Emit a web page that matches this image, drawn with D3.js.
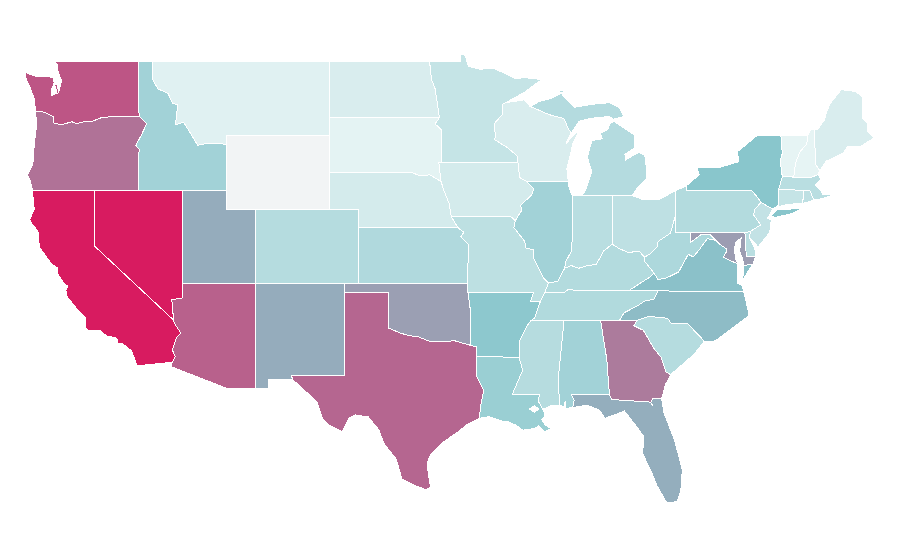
<!DOCTYPE html>
<html>
<head>
<meta charset="utf-8">
<title>US states</title>
<script src="https://cdnjs.cloudflare.com/ajax/libs/d3/7.8.5/d3.min.js"></script>
<style>
  html, body { margin: 0; padding: 0; background: #fff; }
  .state { stroke: #fff; stroke-width: 1px; shape-rendering: crispEdges; fill-rule: evenodd; }
</style>
</head>
<body>
<div id="map"></div>
<script>
var stateNames = ["WA","OR","CA","NV","ID","MT","WY","UT","AZ","NM","CO","ND","SD","NE","KS","OK","TX",
  "MN","IA","MO","AR","LA","WI","IL","MI","IN","OH","KY","TN","MS","AL","GA","FL","SC","NC","VA","WV",
  "PA","NY","VT","NH","ME","MA","CT","RI","NJ","DE","MD"];
var stateValues = [166,149,200,200,74,9,0,115,159,115,54,17,5,22,59,123,156,
  37,22,46,96,82,17,74,55,50,45,56,58,53,74,144,114,54,106,103,62,
  56,100,3,3,17,50,37,45,40,50,124];

// outlines, lon/lat
var WA = [[[-122.76,49],[-117.03,49],[-117.04,46.42],[-116.92,45.99],[-118.98,46],[-119.3,45.93],[-119.6,45.92],[-120.2,45.73],[-120.65,45.74],[-121.2,45.61],[-121.55,45.72],[-122.25,45.55],[-122.77,45.65],[-122.8,46],[-123.2,46.15],[-123.55,46.26],[-124,46.27],[-124.07,46.7],[-124.1,46.95],[-124.4,47.6],[-124.73,48.17],[-124.7,48.38],[-124,48.17],[-123.1,48.15],[-122.8,48.1],[-122.75,47.8],[-122.95,47.45],[-122.9,47.15],[-122.55,47.25],[-122.7,47.7],[-122.55,47.75],[-122.45,47.3],[-122.35,47.6],[-122.25,47.95],[-122.4,48.25],[-122.5,48.5],[-122.5,48.75]]];
var OR = [[[-124,46.27],[-123.55,46.26],[-123.2,46.15],[-122.8,46],[-122.77,45.65],[-122.25,45.55],[-121.55,45.72],[-121.2,45.61],[-120.65,45.74],[-120.2,45.73],[-119.6,45.92],[-119.3,45.93],[-118.98,46],[-116.92,45.99],[-116.46,45.6],[-116.85,44.95],[-117.2,44.45],[-116.95,44.2],[-117.03,43.83],[-117.03,42],[-124.21,42],[-124.36,42.5],[-124.55,42.84],[-124.2,43.4],[-124.1,44.5],[-123.95,45.5]]];
var CA = [[[-124.21,42],[-120,42],[-120,39],[-114.63,35],[-114.57,34.83],[-114.14,34.3],[-114.43,34.05],[-114.72,33.4],[-114.52,33.03],[-114.72,32.72],[-117.12,32.53],[-117.25,32.85],[-117.5,33.35],[-118.1,33.72],[-118.4,33.75],[-118.5,34.03],[-119.2,34.15],[-119.6,34.42],[-120.47,34.45],[-120.65,34.6],[-120.65,35.15],[-121.3,35.7],[-121.9,36.3],[-121.95,36.6],[-121.8,36.85],[-122.05,36.95],[-122.5,37.5],[-122.5,37.8],[-122.95,38.05],[-123.75,38.95],[-123.85,39.8],[-124.35,40.3],[-124.4,40.45],[-124.1,41],[-124.2,41.75]]];
var NV = [[[-120,42],[-114.04,42],[-114.04,36.2],[-114.75,36.1],[-114.63,35],[-120,39]]];
var ID = [[[-117.03,49],[-116.05,49],[-116.05,48],[-115.7,47.5],[-115,47.25],[-114.7,46.7],[-114.35,46.65],[-114.5,45.55],[-113.95,45.7],[-113.45,45.05],[-113,44.45],[-112.3,44.55],[-111.5,44.55],[-111.05,44.48],[-111.05,42],[-117.03,42],[-117.03,43.83],[-116.95,44.2],[-117.2,44.45],[-116.85,44.95],[-116.46,45.6],[-116.92,45.99],[-117.04,46.42]]];
var MT = [[[-116.05,49],[-104.05,49],[-104.05,45],[-111.05,45],[-111.05,44.48],[-111.5,44.55],[-112.3,44.55],[-113,44.45],[-113.45,45.05],[-113.95,45.7],[-114.5,45.55],[-114.35,46.65],[-114.7,46.7],[-115,47.25],[-115.7,47.5],[-116.05,48]]];
var WY = [[[-111.05,45],[-104.05,45],[-104.05,41],[-111.05,41]]];
var UT = [[[-114.04,42],[-111.05,42],[-111.05,41],[-109.05,41],[-109.05,37],[-114.04,37]]];
var AZ = [[[-114.04,37],[-109.05,37],[-109.05,31.33],[-111.07,31.33],[-114.81,32.49],[-114.72,32.72],[-114.52,33.03],[-114.72,33.4],[-114.43,34.05],[-114.14,34.3],[-114.57,34.83],[-114.63,35],[-114.75,36.1],[-114.04,36.2]]];
var NM = [[[-109.05,37],[-103,37],[-103.04,32],[-106.62,32],[-106.53,31.78],[-108.21,31.78],[-108.21,31.33],[-109.05,31.33]]];
var CO = [[[-109.05,41],[-102.05,41],[-102.05,37],[-109.05,37]]];
var ND = [[[-104.05,49],[-97.23,49],[-97.1,48],[-96.85,47.5],[-96.56,45.94],[-104.05,45.94]]];
var SD = [[[-104.05,45.94],[-96.56,45.94],[-96.85,45.6],[-96.45,45.3],[-96.45,43.5],[-96.6,43.5],[-96.45,42.49],[-97.2,42.85],[-97.9,42.8],[-98.5,43],[-104.05,43]]];
var NE = [[[-104.05,43],[-98.5,43],[-97.9,42.8],[-97.2,42.85],[-96.45,42.49],[-96.25,42],[-95.9,41.3],[-95.75,40.58],[-95.31,40],[-102.05,40],[-102.05,41],[-104.05,41]]];
var KS = [[[-102.05,40],[-95.31,40],[-94.9,39.75],[-95.1,39.5],[-94.61,39.11],[-94.62,37],[-102.05,37]]];
var OK = [[[-103,37],[-94.62,37],[-94.62,36.5],[-94.43,35.4],[-94.48,33.64],[-95.5,33.88],[-96.6,33.85],[-97.2,33.85],[-98.1,34.13],[-98.6,34.15],[-99.2,34.3],[-100,34.56],[-100,36.5],[-103.04,36.5]]];
var TX = [[[-103.04,36.5],[-100,36.5],[-100,34.56],[-99.2,34.3],[-98.6,34.15],[-98.1,34.13],[-97.2,33.85],[-96.6,33.85],[-95.5,33.88],[-94.48,33.64],[-94.04,33.55],[-94.04,33.02],[-94.04,32],[-93.55,31.2],[-93.75,30.4],[-93.84,29.7],[-94.7,29.35],[-95.15,29.05],[-96.3,28.4],[-97.1,27.8],[-97.4,27.3],[-97.3,26.6],[-97.15,25.96],[-97.5,25.85],[-98.2,26.05],[-99.1,26.4],[-99.5,27.5],[-100.3,28.3],[-100.7,29.1],[-101.4,29.77],[-102.3,29.88],[-102.7,29.7],[-103.15,28.98],[-104,29.3],[-104.5,29.65],[-104.9,30.6],[-106,31.4],[-106.53,31.78],[-106.62,32],[-103.04,32]]];
var MN = [[[-97.23,49],[-95.15,49],[-95.15,49.38],[-94.8,49.3],[-94.6,48.72],[-93.8,48.55],[-92.95,48.62],[-92,48.3],[-91.4,48.05],[-90.75,48.1],[-89.6,48],[-90.8,47.3],[-92.05,46.75],[-92.3,46.66],[-92.3,46.1],[-92.85,45.6],[-92.75,45],[-92.8,44.75],[-91.9,44.3],[-91.25,43.85],[-91.22,43.5],[-96.45,43.5],[-96.45,45.3],[-96.85,45.6],[-96.56,45.94],[-96.85,47.5],[-97.1,48]]];
var IA = [[[-96.6,43.5],[-91.22,43.5],[-91.1,42.7],[-90.65,42.5],[-90.15,42.1],[-90.3,41.75],[-91.05,41.2],[-90.95,40.95],[-91.4,40.38],[-91.73,40.61],[-95.75,40.58],[-95.9,41.3],[-96.25,42],[-96.45,42.49]]];
var MO = [[[-95.75,40.58],[-91.73,40.61],[-91.4,40.38],[-91.5,40],[-90.75,39.25],[-90.7,38.9],[-90.15,38.8],[-90.2,38.4],[-89.5,37.3],[-89.15,37],[-89.4,36.5],[-89.7,36],[-90.37,36],[-90.15,36.5],[-94.62,36.5],[-94.62,37],[-94.61,39.11],[-95.1,39.5],[-94.9,39.75],[-95.31,40]]];
var AR = [[[-94.62,36.5],[-90.15,36.5],[-90.37,36],[-89.7,36],[-90.1,35.1],[-90.3,35],[-90.6,34.7],[-91.1,33.9],[-91.15,33],[-94.04,33.02],[-94.04,33.55],[-94.48,33.64],[-94.43,35.4]]];
var LA = [[[-94.04,33.02],[-91.15,33],[-90.9,32.3],[-91.6,31],[-89.73,31],[-89.85,30.65],[-89.55,30.18],[-89.4,30],[-89.4,29.8],[-89.6,29.65],[-89.4,29.35],[-89,29.15],[-89.4,28.95],[-89.8,29.3],[-90.1,29.15],[-90.9,29.05],[-91.3,29.3],[-91.85,29.5],[-92.3,29.55],[-93.2,29.78],[-93.84,29.7],[-93.75,30.4],[-93.55,31.2],[-94.04,32]],
  [[-90.45,30.2],[-90.1,30.38],[-89.8,30.2],[-90.1,30.03]]];
var WI = [[[-92.05,46.75],[-92.3,46.66],[-92.3,46.1],[-92.85,45.6],[-92.75,45],[-92.8,44.75],[-91.9,44.3],[-91.25,43.85],[-91.22,43.5],[-91.1,42.7],[-90.65,42.5],[-87.8,42.5],[-87.9,43.2],[-87.7,43.8],[-87.5,44.5],[-87.05,45.25],[-87.35,45.05],[-87.95,44.55],[-87.6,45.1],[-87.8,45.35],[-88.1,45.9],[-89.1,46.1],[-90.4,46.55],[-90.8,46.9],[-91.2,46.85]]];
var IL = [[[-90.65,42.5],[-87.8,42.5],[-87.8,42.3],[-87.55,41.75],[-87.53,41.7],[-87.53,39.35],[-87.6,38.7],[-87.95,38.2],[-88.05,37.8],[-88.5,37.1],[-89.15,37],[-89.5,37.3],[-90.2,38.4],[-90.15,38.8],[-90.7,38.9],[-90.75,39.25],[-91.5,40],[-91.4,40.38],[-90.95,40.95],[-91.05,41.2],[-90.3,41.75],[-90.15,42.1]]];
var MI = [[[-86.82,41.76],[-84.8,41.76],[-83.45,41.73],[-83.15,42.1],[-82.5,42.6],[-82.45,43],[-82.6,43.9],[-83,44.05],[-83.4,43.9],[-83.9,43.65],[-83.95,43.95],[-83.3,44.3],[-83.3,45],[-84.7,45.75],[-85,45.6],[-85.1,45.3],[-85.6,45.1],[-85.5,44.8],[-86.2,44.7],[-86.5,43.8],[-86.2,43],[-86.6,42.1]],
  [[-90.4,46.55],[-89.1,46.1],[-88.1,45.9],[-87.8,45.35],[-87.6,45.1],[-87.05,45.75],[-86.3,45.9],[-85,46],[-84.75,45.85],[-84,46],[-84.35,46.5],[-85,46.75],[-86.1,46.67],[-87.4,46.5],[-87.9,46.9],[-88.4,47.37],[-87.8,47.47],[-88.9,47],[-89.8,46.8]]];
var IN = [[[-87.53,41.7],[-87.2,41.75],[-86.82,41.76],[-84.8,41.76],[-84.82,39.1],[-85.4,38.73],[-85.9,38],[-86.5,37.95],[-87.1,37.8],[-87.6,37.95],[-88.05,37.8],[-87.95,38.2],[-87.6,38.7],[-87.53,39.35]]];
var OH = [[[-84.8,41.76],[-83.45,41.73],[-82.7,41.5],[-81.7,41.5],[-80.52,41.98],[-80.52,40.64],[-80.85,39.7],[-81.7,39.25],[-81.75,38.95],[-82.2,38.6],[-82.6,38.4],[-83,38.73],[-83.7,38.65],[-84.3,38.85],[-84.82,39.1]]];
var KY = [[[-89.4,36.5],[-89.15,37],[-88.5,37.1],[-88.05,37.8],[-87.6,37.95],[-87.1,37.8],[-86.5,37.95],[-85.9,38],[-85.4,38.73],[-84.82,39.1],[-84.3,38.85],[-83.7,38.65],[-83,38.73],[-82.6,38.4],[-82.6,38.17],[-81.97,37.54],[-82.3,37.3],[-83.68,36.6],[-87.85,36.63],[-88.05,36.5]]];
var TN = [[[-89.7,36],[-89.4,36.5],[-88.05,36.5],[-87.85,36.63],[-83.68,36.6],[-81.68,36.59],[-82,36.12],[-82.6,36.03],[-83.1,35.77],[-84,35.4],[-84.32,34.99],[-85.6,34.98],[-88.2,35],[-90.3,35],[-90.1,35.1]]];
var MS = [[[-90.3,35],[-88.2,35],[-88.1,34.9],[-88.47,31.9],[-88.4,30.37],[-88.9,30.4],[-89.55,30.18],[-89.85,30.65],[-89.73,31],[-91.6,31],[-90.9,32.3],[-91.15,33],[-91.1,33.9],[-90.6,34.7]]];
var AL = [[[-88.2,35],[-85.6,34.98],[-85.18,32.87],[-85.1,32],[-85,31],[-87.6,31],[-87.4,30.65],[-87.5,30.28],[-88,30.23],[-88,30.65],[-88.1,30.35],[-88.4,30.37],[-88.47,31.9],[-88.1,34.9]]];
var GA = [[[-85.6,34.98],[-84.32,34.99],[-83.1,35],[-83.35,34.7],[-82.7,34.45],[-82,33.5],[-81.5,33],[-81.15,32.2],[-80.85,32.05],[-81.2,31.5],[-81.45,30.75],[-82.05,30.75],[-82.2,30.55],[-82.05,30.36],[-82.21,30.57],[-84.86,30.71],[-85,31],[-85.1,32],[-85.18,32.87]]];
var FL = [[[-87.6,31],[-85,31],[-84.86,30.71],[-82.21,30.57],[-82.05,30.36],[-82.2,30.55],[-82.05,30.75],[-81.45,30.75],[-81.3,30],[-80.55,28.45],[-80.05,26.9],[-80.15,25.75],[-80.4,25.2],[-81.1,25.12],[-81.8,26.1],[-82.1,26.7],[-82.75,27.8],[-82.65,28.7],[-83.4,29.5],[-84,30.1],[-84.4,29.95],[-85.3,29.7],[-85.7,30.15],[-86.5,30.4],[-87.5,30.28],[-87.4,30.65]]];
var SC = [[[-83.1,35],[-82.3,35.2],[-81.05,35.1],[-80.8,34.82],[-79.67,34.8],[-78.55,33.86],[-79.2,33.2],[-79.9,32.7],[-80.85,32.05],[-81.15,32.2],[-81.5,33],[-82,33.5],[-82.7,34.45],[-83.35,34.7]]];
var NC = [[[-84.32,34.99],[-84,35.4],[-83.1,35.77],[-82.6,36.03],[-82,36.12],[-81.68,36.59],[-80,36.55],[-75.87,36.55],[-75.5,35.25],[-76.5,34.65],[-77.6,34],[-77.95,33.85],[-78.55,33.86],[-79.67,34.8],[-80.8,34.82],[-81.05,35.1],[-82.3,35.2],[-83.1,35]]];
var VA = [[[-83.68,36.6],[-81.68,36.59],[-80,36.55],[-75.87,36.55],[-76,36.9],[-76.3,37],[-76.3,37.55],[-76.3,38.05],[-76.9,38.25],[-77.25,38.4],[-77.05,38.7],[-77.05,38.85],[-77.5,39.1],[-77.75,39.3],[-78.35,39.4],[-78.9,38.8],[-79.3,38.42],[-79.65,38.55],[-80.3,37.6],[-81.2,37.25],[-81.7,37.2],[-81.97,37.54],[-82.3,37.3]],
  [[-75.25,38.03],[-75.85,37.95],[-75.95,37.15],[-75.6,37.6]]];
var WV = [[[-80.52,40.64],[-80.52,39.72],[-79.48,39.72],[-79.48,39.2],[-78.8,39.6],[-78.2,39.65],[-77.75,39.3],[-78.35,39.4],[-78.9,38.8],[-79.3,38.42],[-79.65,38.55],[-80.3,37.6],[-81.2,37.25],[-81.7,37.2],[-81.97,37.54],[-82.6,38.17],[-82.6,38.4],[-82.2,38.6],[-81.75,38.95],[-81.7,39.25],[-80.85,39.7]]];
var PA = [[[-80.52,41.98],[-79.76,42.27],[-79.76,42],[-75.35,42],[-75.05,41.75],[-74.7,41.36],[-75.13,40.98],[-75.2,40.68],[-74.72,40.15],[-75.4,39.8],[-75.79,39.72],[-80.52,39.72],[-80.52,40.64]]];
var NY = [[[-79.76,42],[-79.76,42.27],[-78.9,42.85],[-79.05,43.27],[-77.5,43.25],[-76.5,43.5],[-76.2,43.55],[-76.3,44.1],[-75,44.95],[-74.7,45],[-73.35,45],[-73.25,44],[-73.4,43.6],[-73.25,42.75],[-73.5,42.05],[-73.49,41.2],[-73.73,41.1],[-73.9,41],[-74.7,41.36],[-75.05,41.75],[-75.35,42]],
  [[-74.03,40.62],[-73.7,40.55],[-72.5,40.78],[-71.87,41.07],[-72.4,41.02],[-72.7,41],[-73.6,40.95]]];
var VT = [[[-73.35,45],[-71.5,45],[-71.6,44.5],[-72.05,44.1],[-72.3,43.6],[-72.45,43],[-72.46,42.73],[-73.25,42.75],[-73.4,43.6],[-73.25,44]]];
var NH = [[[-71.5,45],[-71.3,45.3],[-71.08,45.3],[-70.98,43.4],[-70.7,43.07],[-70.82,42.87],[-71.3,42.7],[-72.46,42.73],[-72.45,43],[-72.3,43.6],[-72.05,44.1],[-71.6,44.5]]];
var ME = [[[-71.08,45.3],[-70.85,45.3],[-70.4,45.8],[-70.25,46.2],[-70,46.7],[-69.23,47.46],[-69.05,47.43],[-68.3,47.36],[-67.8,47.07],[-67.78,45.9],[-67.45,45.6],[-67.45,45.2],[-67,44.85],[-67.9,44.4],[-68.8,44.4],[-69.1,44.05],[-69.8,43.75],[-70.25,43.6],[-70.7,43.07],[-70.98,43.4]]];
var MA = [[[-73.5,42.05],[-73.25,42.75],[-72.46,42.73],[-71.3,42.7],[-70.82,42.87],[-70.65,42.6],[-71,42.3],[-70.65,42],[-70.5,41.8],[-70,41.78],[-70,42.05],[-69.95,41.7],[-70.65,41.55],[-71.12,41.5],[-71.38,42.02],[-71.8,42.02]]];
var CT = [[[-73.5,42.05],[-71.8,42.02],[-71.86,41.32],[-72.9,41.25],[-73.73,41.1],[-73.49,41.2]]];
var RI = [[[-71.8,42.02],[-71.38,42.02],[-71.12,41.5],[-71.5,41.37],[-71.86,41.32]]];
var NJ = [[[-74.7,41.36],[-73.9,41],[-74.25,40.5],[-74,40.4],[-74.1,39.75],[-74.9,38.95],[-75.5,39.5],[-75.4,39.8],[-74.72,40.15],[-75.2,40.68],[-75.13,40.98]]];
var DE = [[[-75.79,39.72],[-75.4,39.8],[-75.5,39.5],[-75.1,38.8],[-75.05,38.45],[-75.7,38.46]]];
var MD = [[[-79.48,39.72],[-75.79,39.72],[-75.7,38.46],[-75.05,38.45],[-75.25,38.03],[-75.85,37.95],[-75.95,38.3],[-76.15,38.7],[-76.05,39.45],[-76.4,39.2],[-76.5,38.9],[-76.45,38.4],[-76.3,38.05],[-76.9,38.25],[-77.25,38.4],[-77.05,38.7],[-77.05,38.85],[-77.5,39.1],[-77.75,39.3],[-78.2,39.65],[-78.8,39.6],[-79.48,39.2]]];

var outlines = {WA:WA,OR:OR,CA:CA,NV:NV,ID:ID,MT:MT,WY:WY,UT:UT,AZ:AZ,NM:NM,CO:CO,ND:ND,SD:SD,NE:NE,KS:KS,OK:OK,TX:TX,
  MN:MN,IA:IA,MO:MO,AR:AR,LA:LA,WI:WI,IL:IL,MI:MI,IN:IN,OH:OH,KY:KY,TN:TN,MS:MS,AL:AL,GA:GA,FL:FL,SC:SC,NC:NC,VA:VA,WV:WV,
  PA:PA,NY:NY,VT:VT,NH:NH,ME:ME,MA:MA,CT:CT,RI:RI,NJ:NJ,DE:DE,MD:MD};

var width = 900;
var height = 560;

// the map is stretched, so lon and lat get their own scale
var x = d3.scaleLinear().domain([-124.73, -66.95]).range([25, 875]);
var y = d3.scaleLinear().domain([49, 25.12]).range([61, 503]);

// wyoming sits below the low end of the ramp
var color = d3.scaleLinear()
    .domain([0, 1, 100, 200])
    .range(["#f2f4f5", "#e8f5f5", "#89c6cc", "#d81b60"]);

var projection = d3.geoTransform({
    point: function (lon, lat) { this.stream.point(x(lon), y(lat)); }
});
var path = d3.geoPath(projection);

// geojson rings repeat their first point
function closeRing(ring) {
    return ring.concat([ring[0]]);
}

var features = stateNames.map(function (name, i) {
    var rings = outlines[name].map(closeRing);
    return {
        type: "Feature",
        id: name,
        properties: { value: stateValues[i] },
        // Louisiana's second ring is the lake, not an island
        geometry: name == "LA"
            ? { type: "Polygon", coordinates: rings }
            : { type: "MultiPolygon", coordinates: rings.map(function (ring) { return [ring]; }) }
    };
});

var svg = d3.select("#map").append("svg")
    .attr("width", width)
    .attr("height", height);

svg.append("g")
    .selectAll("path")
    .data(features)
    .enter()
    .append("path")
    .attr("class", "state")
    .attr("d", path)
    .attr("fill", function (d) { return color(d.properties.value); });
</script>
</body>
</html>
